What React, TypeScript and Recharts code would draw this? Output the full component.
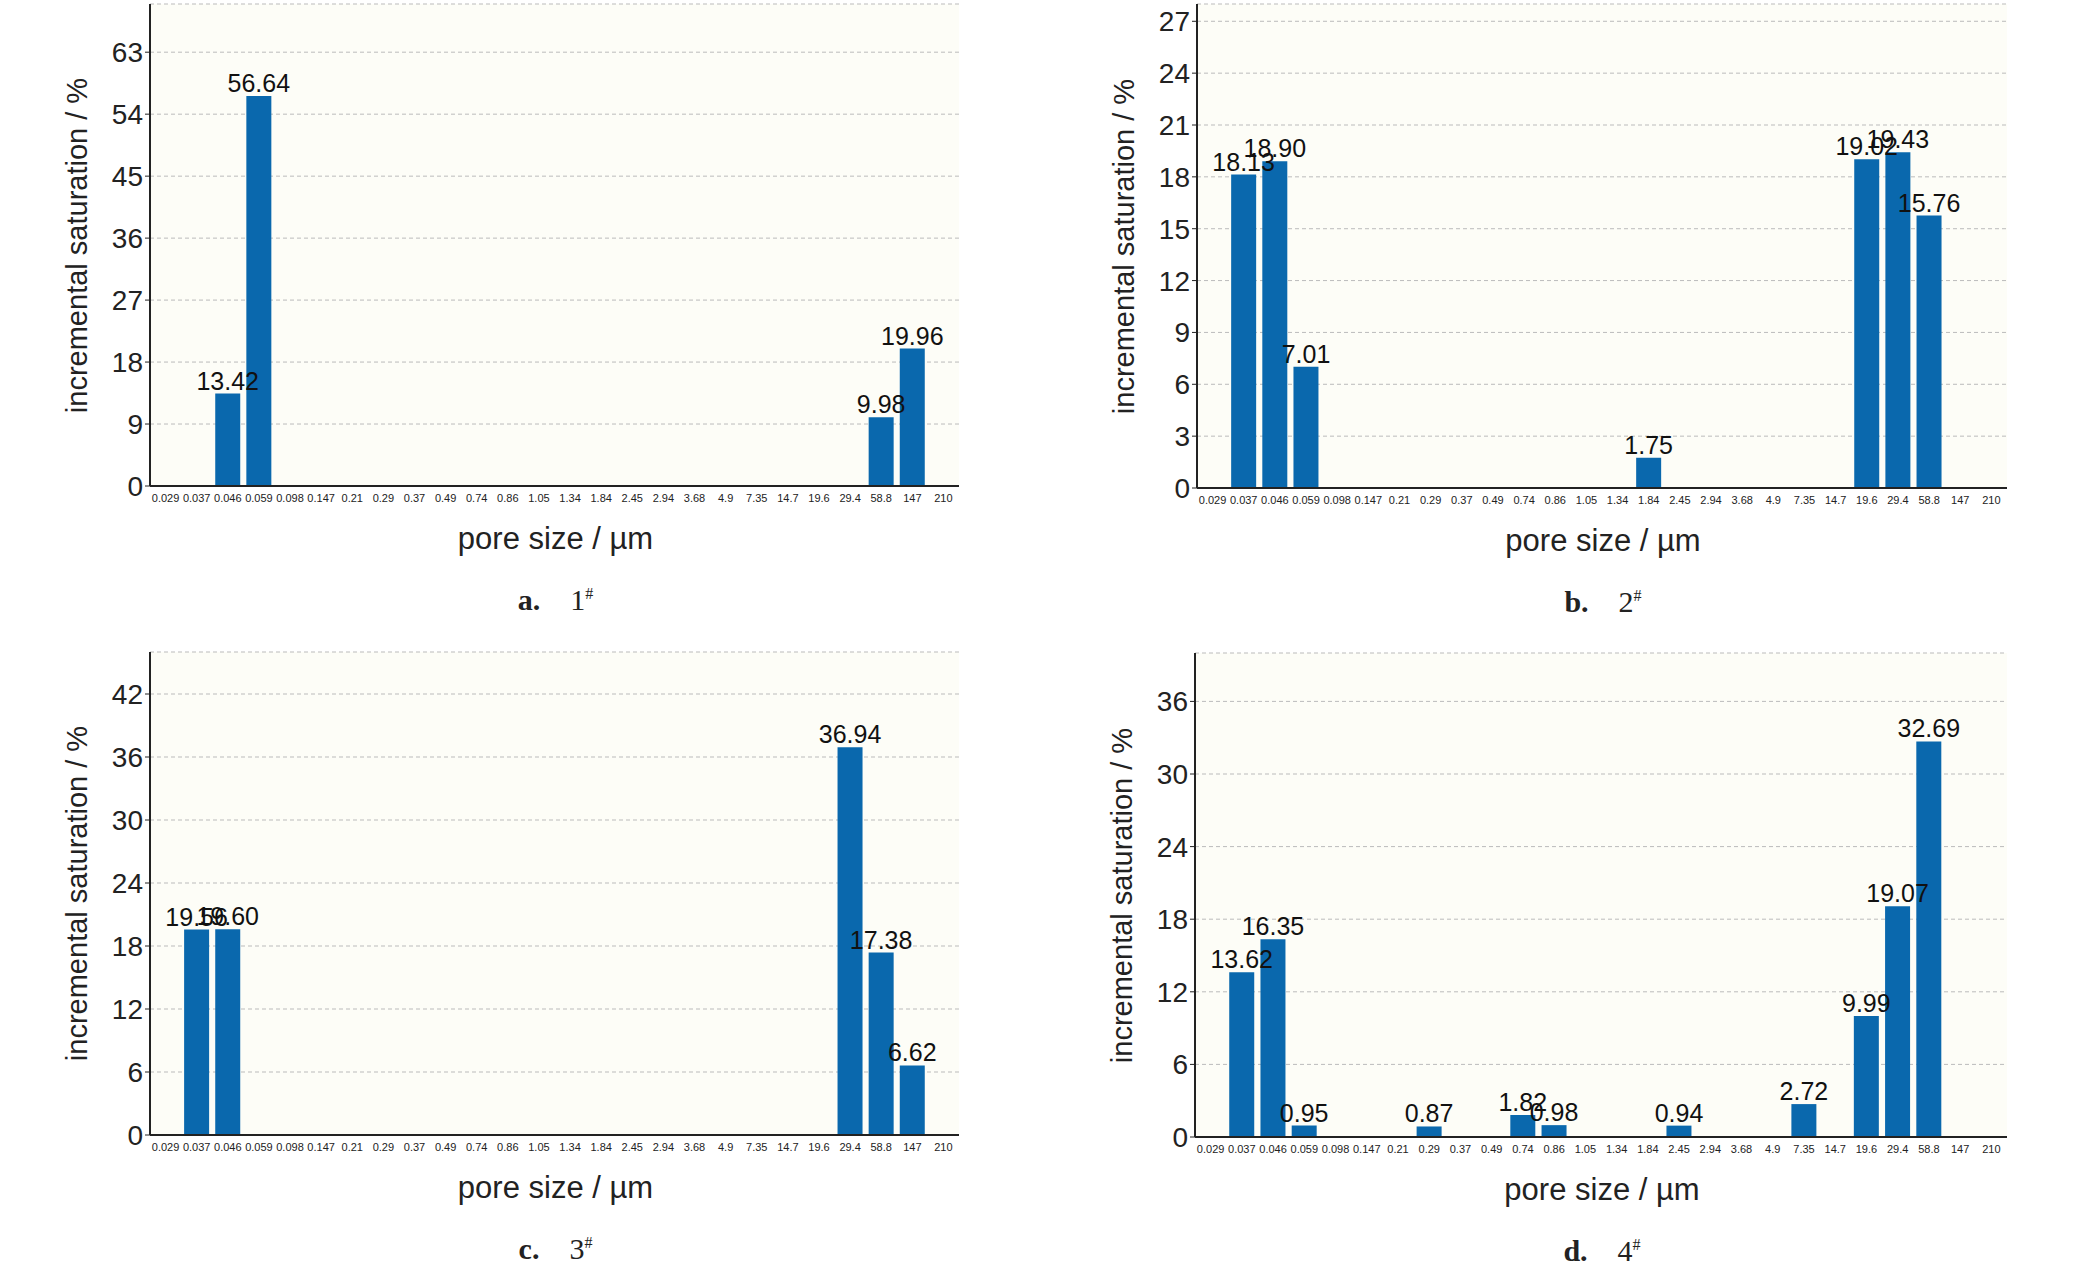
import React from "react";
import { BarChart, Bar, XAxis, YAxis, CartesianGrid, LabelList } from "recharts";

const poreSizes = ["0.029","0.037","0.046","0.059","0.098","0.147","0.21","0.29","0.37","0.49","0.74","0.86","1.05","1.34","1.84","2.45","2.94","3.68","4.9","7.35","14.7","19.6","29.4","58.8","147","210"];

const sample1 = [0,0,13.42,56.64,0,0,0,0,0,0,0,0,0,0,0,0,0,0,0,0,0,0,0,9.98,19.96,0];
const sample2 = [0,18.13,18.9,7.01,0,0,0,0,0,0,0,0,0,0,1.75,0,0,0,0,0,0,19.02,19.43,15.76,0,0];
const sample3 = [0,19.56,19.6,0,0,0,0,0,0,0,0,0,0,0,0,0,0,0,0,0,0,0,36.94,17.38,6.62,0];
const sample4 = [0,13.62,16.35,0.95,0,0,0,0.87,0,0,1.82,0.98,0,0,0,0.94,0,0,0,2.72,0,9.99,19.07,32.69,0,0];

const ticks1 = [0,9,18,27,36,45,54,63];
const ticks2 = [0,3,6,9,12,15,18,21,24,27];
const ticks3 = [0,6,12,18,24,30,36,42];
const ticks4 = [0,6,12,18,24,30,36];

const FONT = "'Liberation Sans Narrow', 'Liberation Sans', Arial, sans-serif";
const BLUE = "#0a68ad";

function Panel({ values, ticks, max, plotLeft, plotRight, plotTop, plotBottom, letter, num }: any) {
  const data = poreSizes.map((p, i) => ({ p, v: values[i] }));
  const inner = 104;
  const left = plotLeft - inner;
  const W = plotRight - left + 2;
  const plotH = plotBottom - plotTop;
  const chartH = 5 + plotH + 17;
  return (
    <div style={{ position: "absolute", left, top: plotTop - 5, width: W, height: plotH + 150, fontFamily: FONT }}>
      <BarChart width={W} height={chartH} data={data}
        margin={{ top: 5, right: 2, bottom: 0, left: 56 }} barSize={25}>
        <CartesianGrid vertical={false} stroke="#bbb" strokeDasharray="4 3" fill="#fdfdf7" />
        <XAxis dataKey="p" interval={0} height={17} tickLine={false} axisLine={{ stroke: "#222", strokeWidth: 2 }}
          tick={{ fontSize: 11, fill: "#222", fontFamily: FONT }} />
        <XAxis xAxisId="top" orientation="top" dataKey="p" height={0} tick={false} tickLine={false}
          axisLine={{ stroke: "#222", strokeWidth: 2 }} />
        <YAxis domain={[0, max]} ticks={ticks} width={48} tickSize={5} interval={0}
          axisLine={{ stroke: "#222", strokeWidth: 2 }} tickLine={{ stroke: "#222" }}
          tick={{ fontSize: 28, fill: "#222", fontFamily: FONT }} />
        <YAxis yAxisId="r" orientation="right" width={0} tick={false} tickLine={false} domain={[0, max]}
          axisLine={{ stroke: "#222", strokeWidth: 2 }} />
        <Bar dataKey="v" fill={BLUE} isAnimationActive={false}>
          <LabelList dataKey="v" position="top" offset={4}
            formatter={(v: any) => (v > 0 ? Number(v).toFixed(2) : "")}
            style={{ fontSize: 25, fill: "#111", fontFamily: FONT }} />
        </Bar>
      </BarChart>
      <div style={{ position: "absolute", left: 10, top: 5, width: 44, height: plotH,
        display: "flex", alignItems: "center", justifyContent: "center" }}>
        <div style={{ transform: "rotate(-90deg)", whiteSpace: "nowrap", fontSize: 29, color: "#222" }}>
          incremental saturation / %
        </div>
      </div>
      <div style={{ position: "absolute", left: inner, width: W - inner, top: plotH + 5 + 53, textAlign: "center",
        fontSize: 31, color: "#222", whiteSpace: "nowrap", transform: "translateY(-50%)" }}>
        pore size / µm
      </div>
      <div style={{ position: "absolute", left: inner, width: W - inner, top: plotH + 5 + 114, textAlign: "center",
        fontFamily: "'Liberation Serif', serif", fontSize: 30, color: "#222", transform: "translateY(-50%)" }}>
        <b>{letter}.</b>&nbsp;&nbsp;&nbsp;&nbsp;{num}<sup style={{ fontSize: 16 }}>#</sup>
      </div>
    </div>
  );
}

export default function App() {
  return (
    <div style={{ position: "absolute", left: 0, top: 0, width: 2074, height: 1275, background: "#fff", overflow: "hidden" }}>
      <Panel values={sample1} ticks={ticks1} max={70} plotLeft={150} plotRight={959} plotTop={4} plotBottom={486} letter="a" num="1" />
      <Panel values={sample2} ticks={ticks2} max={28} plotLeft={1197} plotRight={2007} plotTop={4} plotBottom={488} letter="b" num="2" />
      <Panel values={sample3} ticks={ticks3} max={46} plotLeft={150} plotRight={959} plotTop={652} plotBottom={1135} letter="c" num="3" />
      <Panel values={sample4} ticks={ticks4} max={40} plotLeft={1195} plotRight={2007} plotTop={653} plotBottom={1137} letter="d" num="4" />
    </div>
  );
}
